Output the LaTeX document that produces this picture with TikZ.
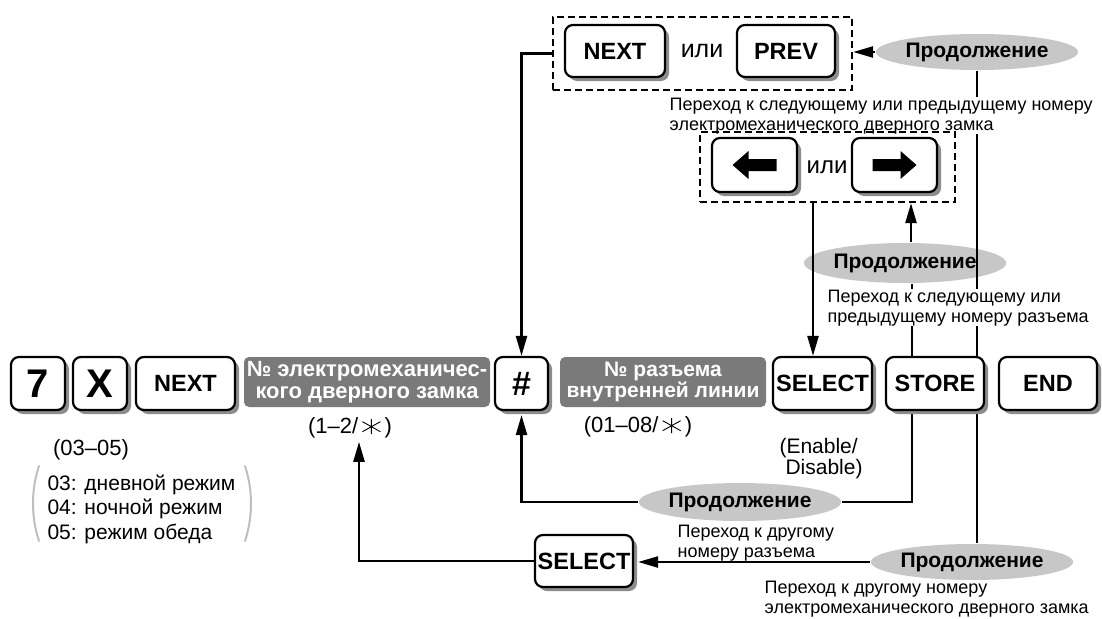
\documentclass[tikz,border=0pt]{standalone}
\usepackage{fontspec}
\setmainfont{Liberation Sans}
\usetikzlibrary{shapes.geometric, shadows, arrows.meta}

% thin six-spoke star of the * key
\newcommand{\keystar}{\tikz[baseline=-7pt, x=1pt, y=1pt, line width=0.9pt]{%
  \draw (0,-7.5) -- (0,7.5) (-9,-5) -- (9,5) (-9,5) -- (9,-5);}}

\tikzset{
  keybox/.style={draw, line width=2.2pt, rounded corners=8pt, fill=white, inner sep=0pt,
    minimum height=53pt, font=\fontsize{23.5}{23.5}\selectfont\bfseries,
    drop shadow={shadow xshift=4pt, shadow yshift=-4pt, fill=black!45, opacity=1}},
  graybox/.style={fill=black!52, rounded corners=5pt, text=white, align=center, inner sep=0pt,
    minimum height=50pt, font=\fontsize{21}{21.5}\selectfont\bfseries},
  contoval/.style={ellipse, fill=black!22, inner sep=0pt, font=\fontsize{21}{21}\selectfont\bfseries},
  notetext/.style={fill=white, inner sep=0.5pt, align=left, anchor=north west,
    font=\fontsize{18}{20}\selectfont},
  lbl/.style={font=\fontsize{22}{22}\selectfont},
  dashgroup/.style={draw, dashed, dash pattern=on 7pt off 4pt, line width=2.2pt},
  bracket/.style={draw=black!25, line width=2pt, line cap=round}
}

\begin{document}
\begin{tikzpicture}[x=1pt, y=-1pt, line width=2.4pt, >={Triangle[length=20pt,width=11pt]}]
  \useasboundingbox (0,0) rectangle (1102,618);
  % continuation ovals
  \node[contoval, minimum width=157pt, minimum height=36pt] (E1) at (977,52) {Продолжение};
  \node[contoval, minimum width=170pt, minimum height=40pt] (E2) at (905,263) {Продолжение};
  \node[contoval, minimum width=165pt, minimum height=38pt] (E3) at (740,502) {Продолжение};
  \node[contoval, minimum width=172pt, minimum height=36pt] (E4) at (972,562) {Продолжение};
  % lines running behind the STORE key
  \draw ([xshift=7pt]E2.south) |- (E3.east);
  \draw (E1.south) -- (E1.south |- E4.north);
  % notes under the ovals
  \node[notetext] (T1) at (668,96) {Переход к следующему или предыдущему номеру\\электромеханического дверного замка};
  \node[notetext] (T2) at (826,288) {Переход к следующему или\\предыдущему номеру разъема};
  \node[notetext] (T3) at (676,523) {Переход к другому\\номеру разъема};
  \node[notetext] (T4) at (763,579) {Переход к другому номеру\\электромеханического дверного замка};
  % main row
  \node[keybox, minimum width=54pt, font=\fontsize{40}{40}\selectfont\bfseries] (K7) at (38,383.5) {7};
  \node[keybox, minimum width=54pt, font=\fontsize{40}{40}\selectfont\bfseries] (KX) at (100,383.5) {X};
  \node[keybox, minimum width=99pt] (KN) at (185.5,383.5) {NEXT};
  \node[graybox, minimum width=246pt, font=\fontsize{22}{22}\selectfont\bfseries] (B1) at (367,382) {№ электромеханичес-\\кого дверного замка};
  \node[keybox, minimum width=53pt, font=\fontsize{34}{34}\selectfont\bfseries] (KH) at (521.5,383.5) {\#};
  \node[graybox, minimum width=206pt] (B2) at (663,382) {№ разъема\\внутренней линии};
  \node[keybox, minimum width=99pt] (KS) at (822.5,383.5) {SELECT};
  \node[keybox, minimum width=98pt] (KST) at (935,383.5) {STORE};
  \node[keybox, minimum width=98pt] (KE) at (1048,383.5) {END};
  \node[keybox, minimum width=98pt, minimum height=52pt] (KS2) at (584,561) {SELECT};
  % labels under the row
  \node[lbl] (L0) at (91,450) {(03–05)};
  \node[lbl, align=left, anchor=north west, font=\fontsize{21}{24.5}\selectfont] (LST) at (43,470)
    {03: дневной режим\\04: ночной режим\\05: режим обеда};
  \draw[bracket] (39,466) .. controls (31,490) and (31,517) .. (39,541);
  \draw[bracket] (245,466) .. controls (253,490) and (253,517) .. (245,541);
  \node[lbl] (L12) at (350,428) {(1–2/\,\keystar\,)};
  \node[lbl] (L18) at (638,427) {(01–08/\,\keystar\,)};
  \node[lbl, align=left, anchor=north west, font=\fontsize{21}{17.5}\selectfont] (LEN) at (775,434)
    {(Enable/\\\hspace*{6pt}Disable)};
  % upper groups
  \node[keybox, minimum width=100pt, minimum height=52pt] (KN2) at (615,51) {NEXT};
  \node[font=\fontsize{25}{25}\selectfont] (OR1) at (702,51) {или};
  \node[keybox, minimum width=98pt, minimum height=52pt] (KP) at (786,51) {PREV};
  \node[dashgroup, minimum width=299pt, minimum height=73pt] (DA) at (702.5,53.5) {};
  \node[keybox, minimum width=85pt, minimum height=54pt] (KL) at (754.5,165) {};
  \node[font=\fontsize{24}{24}\selectfont] (OR2) at (827,167) {или};
  \node[keybox, minimum width=85pt, minimum height=54pt] (KR) at (894.5,165) {};
  \node[dashgroup, minimum width=255pt, minimum height=70pt] (DB) at (827.5,167) {};
  \fill ([xshift=-22pt]KL.center) -- ++(16,-14) -- ++(0,8) -- ++(28,0) -- ++(0,12)
    -- ++(-28,0) -- ++(0,8) -- cycle;
  \fill ([xshift=22pt]KR.center) -- ++(-16,-14) -- ++(0,8) -- ++(-28,0) -- ++(0,12)
    -- ++(28,0) -- ++(0,8) -- cycle;
  % arrows
  \draw[->] (E1.west) -- (E1.west -| DA.east);
  \draw[->] (DA.west) -| (KH.north);
  \draw[->] ([xshift=6pt]E2.north) -- ([xshift=6pt]E2.north |- DB.south);
  \draw[->] ([xshift=-14.5pt]DB.south) -- ([xshift=-14.5pt]DB.south |- KS.north);
  \draw[->, shorten >=4pt] (E3.west) -| (KH.south);
  \draw[->, shorten >=4pt] (E4.west) -- (E4.west -| KS2.east);
  \draw[->] (KS2.west) -| ([xshift=9pt]L12.south);
\end{tikzpicture}
\end{document}
